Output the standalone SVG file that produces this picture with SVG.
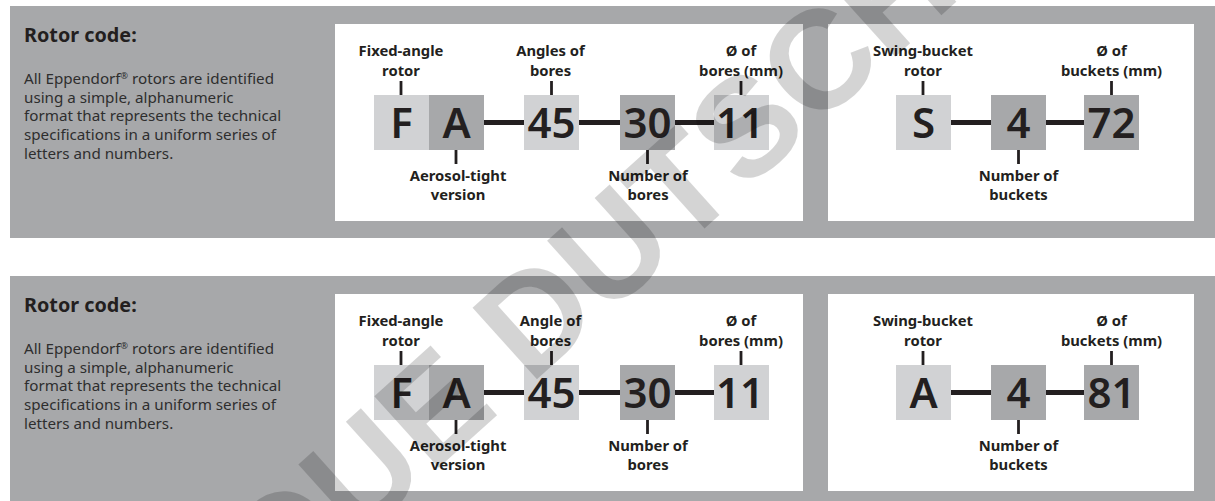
<svg xmlns="http://www.w3.org/2000/svg" width="1215" height="501" viewBox="0 0 1215 501">
<style>
.bg{fill:#a7a8aa}
.card{fill:#ffffff}
.lt{fill:#d1d2d4}
.dk{fill:#a7a8aa}
.big{font-family:"Noto Sans","Open Sans",sans-serif;font-weight:600;font-size:42px;fill:#231f20;text-anchor:middle}
.lbl{font-family:"Noto Sans","Open Sans",sans-serif;font-weight:700;font-size:14.8px;fill:#231f20;text-anchor:middle}
.h{font-family:"Noto Sans","Open Sans",sans-serif;font-weight:700;font-size:19.8px;fill:#231f20}
.d{font-family:"Noto Sans","Open Sans",sans-serif;font-weight:400;font-size:15.2px;fill:#2e2e2e}
.tick{stroke:#231f20;stroke-width:2.8}
.con{stroke:#231f20;stroke-width:5}
.wm{font-family:"Liberation Sans",Arial,sans-serif;font-weight:700;font-size:140px;fill:#000;fill-opacity:0.17}
</style>
<rect width="1215" height="501" fill="#ffffff"/>

<!-- ===== Top panel ===== -->
<g id="panel-top">
  <rect class="bg" x="10" y="6" width="1205" height="232"/>
  <rect class="card" x="335" y="24" width="468" height="197"/>
  <rect class="card" x="828" y="24" width="366" height="197"/>
  <text class="h" x="24" y="41.7">Rotor code:</text>
  <text class="d" x="24" y="84">All Eppendorf<tspan font-size="9" dy="-5.5">®</tspan><tspan dy="5.5"> rotors are identified</tspan></text>
  <text class="d" x="24" y="102.7">using a simple, alphanumeric</text>
  <text class="d" x="24" y="121.3">format that represents the technical</text>
  <text class="d" x="24" y="140">specifications in a uniform series of</text>
  <text class="d" x="24" y="158.7">letters and numbers.</text>
</g>

<g id="connectors-top">
  <line class="con" x1="484" y1="122.5" x2="524" y2="122.5"/>
  <line class="con" x1="579" y1="122.5" x2="620" y2="122.5"/>
  <line class="con" x1="675" y1="122.5" x2="714" y2="122.5"/>
  <line class="con" x1="951" y1="122.5" x2="991" y2="122.5"/>
  <line class="con" x1="1046" y1="122.5" x2="1084" y2="122.5"/>
  <line class="tick" x1="401" y1="81" x2="401" y2="95"/>
  <line class="tick" x1="456" y1="150" x2="456" y2="164"/>
  <line class="tick" x1="551.5" y1="81" x2="551.5" y2="95"/>
  <line class="tick" x1="647.5" y1="150" x2="647.5" y2="164"/>
  <line class="tick" x1="741" y1="81" x2="741" y2="95"/>
  <line class="tick" x1="923" y1="81" x2="923" y2="95"/>
  <line class="tick" x1="1018.5" y1="150" x2="1018.5" y2="164"/>
  <line class="tick" x1="1111.5" y1="81" x2="1111.5" y2="95"/>
</g>

<g id="t-F"><rect class="lt" x="374" y="95" width="55" height="55"/><text class="big" x="401.5" y="138">F</text>
  <text class="lbl" x="401" y="56">Fixed-angle</text><text class="lbl" x="401" y="75.5">rotor</text></g>
<g id="t-A"><rect class="dk" x="429" y="95" width="55" height="55"/><text class="big" x="456.5" y="138">A</text>
  <text class="lbl" x="458" y="181">Aerosol-tight</text><text class="lbl" x="458" y="199.5">version</text></g>
<g id="t-45"><rect class="lt" x="524" y="95" width="55" height="55"/><text class="big" x="551.5" y="138">45</text>
  <text class="lbl" x="550.5" y="56">Angles of</text><text class="lbl" x="550.5" y="75.5">bores</text></g>
<g id="t-30"><rect class="dk" x="620" y="95" width="55" height="55"/><text class="big" x="647.5" y="138">30</text>
  <text class="lbl" x="648" y="181">Number of</text><text class="lbl" x="648" y="199.5">bores</text></g>
<g id="t-11"><rect class="lt" x="714" y="95" width="55" height="55"/><text class="big" x="740" y="138">11</text>
  <text class="lbl" x="741" y="56">Ø of</text><text class="lbl" x="741" y="75.5">bores (mm)</text></g>
<g id="t-S"><rect class="lt" x="896" y="95" width="55" height="55"/><text class="big" x="923.5" y="138">S</text>
  <text class="lbl" x="923" y="56">Swing-bucket</text><text class="lbl" x="923" y="75.5">rotor</text></g>
<g id="t-4"><rect class="dk" x="991" y="95" width="55" height="55"/><text class="big" x="1018.5" y="138">4</text>
  <text class="lbl" x="1018.5" y="181">Number of</text><text class="lbl" x="1018.5" y="199.5">buckets</text></g>
<g id="t-72"><rect class="dk" x="1084" y="95" width="55" height="55"/><text class="big" x="1111.5" y="138">72</text>
  <text class="lbl" x="1111.5" y="56">Ø of</text><text class="lbl" x="1111.5" y="75.5">buckets (mm)</text></g>

<!-- ===== Bottom panel ===== -->
<g id="panel-bottom">
  <rect class="bg" x="10" y="276" width="1205" height="230"/>
  <rect class="card" x="335" y="294" width="468" height="197"/>
  <rect class="card" x="828" y="294" width="366" height="197"/>
  <text class="h" x="24" y="311.7">Rotor code:</text>
  <text class="d" x="24" y="354">All Eppendorf<tspan font-size="9" dy="-5.5">®</tspan><tspan dy="5.5"> rotors are identified</tspan></text>
  <text class="d" x="24" y="372.7">using a simple, alphanumeric</text>
  <text class="d" x="24" y="391.3">format that represents the technical</text>
  <text class="d" x="24" y="410">specifications in a uniform series of</text>
  <text class="d" x="24" y="428.7">letters and numbers.</text>
</g>

<g id="connectors-bottom">
  <line class="con" x1="484" y1="392.5" x2="524" y2="392.5"/>
  <line class="con" x1="579" y1="392.5" x2="620" y2="392.5"/>
  <line class="con" x1="675" y1="392.5" x2="714" y2="392.5"/>
  <line class="con" x1="951" y1="392.5" x2="991" y2="392.5"/>
  <line class="con" x1="1046" y1="392.5" x2="1084" y2="392.5"/>
  <line class="tick" x1="401" y1="351" x2="401" y2="365"/>
  <line class="tick" x1="456" y1="420" x2="456" y2="434"/>
  <line class="tick" x1="551.5" y1="351" x2="551.5" y2="365"/>
  <line class="tick" x1="647.5" y1="420" x2="647.5" y2="434"/>
  <line class="tick" x1="741" y1="351" x2="741" y2="365"/>
  <line class="tick" x1="923" y1="351" x2="923" y2="365"/>
  <line class="tick" x1="1018.5" y1="420" x2="1018.5" y2="434"/>
  <line class="tick" x1="1111.5" y1="351" x2="1111.5" y2="365"/>
</g>

<g id="b-F"><rect class="lt" x="374" y="365" width="55" height="55"/><text class="big" x="401.5" y="408">F</text>
  <text class="lbl" x="401" y="326">Fixed-angle</text><text class="lbl" x="401" y="345.5">rotor</text></g>
<g id="b-A"><rect class="dk" x="429" y="365" width="55" height="55"/><text class="big" x="456.5" y="408">A</text>
  <text class="lbl" x="458" y="451">Aerosol-tight</text><text class="lbl" x="458" y="469.5">version</text></g>
<g id="b-45"><rect class="lt" x="524" y="365" width="55" height="55"/><text class="big" x="551.5" y="408">45</text>
  <text class="lbl" x="550.5" y="326">Angle of</text><text class="lbl" x="550.5" y="345.5">bores</text></g>
<g id="b-30"><rect class="dk" x="620" y="365" width="55" height="55"/><text class="big" x="647.5" y="408">30</text>
  <text class="lbl" x="648" y="451">Number of</text><text class="lbl" x="648" y="469.5">bores</text></g>
<g id="b-11"><rect class="lt" x="714" y="365" width="55" height="55"/><text class="big" x="740" y="408">11</text>
  <text class="lbl" x="741" y="326">Ø of</text><text class="lbl" x="741" y="345.5">bores (mm)</text></g>
<g id="b-A2"><rect class="lt" x="896" y="365" width="55" height="55"/><text class="big" x="923.5" y="408">A</text>
  <text class="lbl" x="923" y="326">Swing-bucket</text><text class="lbl" x="923" y="345.5">rotor</text></g>
<g id="b-4"><rect class="dk" x="991" y="365" width="55" height="55"/><text class="big" x="1018.5" y="408">4</text>
  <text class="lbl" x="1018.5" y="451">Number of</text><text class="lbl" x="1018.5" y="469.5">buckets</text></g>
<g id="b-81"><rect class="dk" x="1084" y="365" width="55" height="55"/><text class="big" x="1111.5" y="408">81</text>
  <text class="lbl" x="1111.5" y="326">Ø of</text><text class="lbl" x="1111.5" y="345.5">buckets (mm)</text></g>

<g id="watermark">
  <text class="wm" transform="translate(-48,906) rotate(-42)" x="0" y="0">BOUTIQUE DUTSCHER</text>
</g>
</svg>
